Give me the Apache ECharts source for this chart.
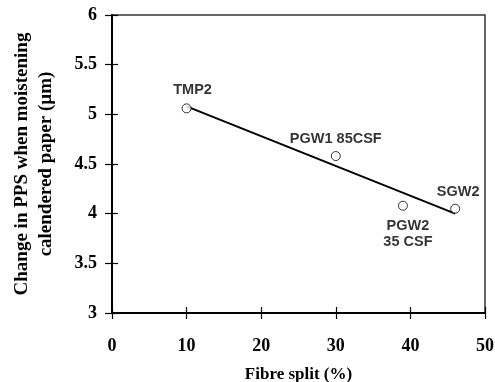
<!DOCTYPE html>
<html>
<head>
<meta charset="utf-8">
<script src="https://cdn.jsdelivr.net/npm/echarts@6/dist/echarts.min.js"></script>
<style>
  html, body { margin: 0; padding: 0; background: #fff; }
  #chart { width: 495px; height: 382px; }
</style>
</head>
<body>
<div id="chart"></div>
<script>
// pulp samples
const sampleNames = ['TMP2', 'PGW1 85CSF', 'PGW2\n35 CSF', 'SGW2']
const fibreSplit = [10, 30, 39, 46]
const ppsChange = [5.06, 4.58, 4.08, 4.05]

// fitted trend line end points
const trendX = [10, 46]
const trendY = [5.08, 4.0]

const xTicks = [0, 10, 20, 30, 40, 50]
const yTicks = [3, 3.5, 4, 4.5, 5, 5.5, 6]

const serif = '"Liberation Serif", "Times New Roman", serif'
const sans = '"Liberation Sans", Arial, sans-serif'

// where each label sits relative to its point
const labelPlace = {
  'TMP2': { position: 'top', offset: [6, 0], distance: 5 },
  'PGW1 85CSF': { position: 'top', offset: [0, 0], distance: 4 },
  'PGW2\n35 CSF': { position: 'bottom', offset: [5, 0], distance: 7 },
  'SGW2': { position: 'top', offset: [3, 0], distance: 4 }
}

const chart = echarts.init(document.getElementById('chart'))

const tickLabel = { fontFamily: serif, fontWeight: 'bold', fontSize: 18, color: '#000' }

const option = {
  animation: false,
  grid: {
    left: 112, right: 10, top: 15, bottom: 69,
    containLabel: false,
    outerBoundsMode: 'none',
    show: true, borderColor: '#333', borderWidth: 1.5
  },
  xAxis: [
    {
      type: 'value',
      min: xTicks[0], max: xTicks[xTicks.length - 1], interval: 10,
      name: 'Fibre split (%)',
      nameLocation: 'middle',
      nameGap: 53,
      nameTextStyle: { fontFamily: serif, fontWeight: 'bold', fontSize: 17, color: '#000' },
      axisLine: { lineStyle: { color: '#000', width: 2 } },
      axisTick: { length: 6, lineStyle: { color: '#000', width: 1.2 } },
      axisLabel: Object.assign({ margin: 24 }, tickLabel),
      splitLine: { show: false }
    },
    {
      type: 'value', position: 'bottom',
      min: xTicks[0], max: xTicks[xTicks.length - 1], interval: 10,
      axisLine: { show: false },
      axisTick: { inside: true, length: 6, lineStyle: { color: '#000', width: 1.2 } },
      axisLabel: { show: false },
      splitLine: { show: false }
    }
  ],
  yAxis: [
    {
      type: 'value',
      min: yTicks[0], max: yTicks[yTicks.length - 1], interval: 0.5,
      name: 'Change in PPS when moistening\ncalendered paper (µm)',
      nameLocation: 'middle',
      nameRotate: 90,
      nameGap: 54,
      nameTextStyle: { fontFamily: serif, fontWeight: 'bold', fontSize: 19, color: '#000', lineHeight: 24 },
      axisLine: { lineStyle: { color: '#000', width: 2 } },
      axisTick: { length: 7, lineStyle: { color: '#000', width: 1.2 } },
      axisLabel: Object.assign({ margin: 15 }, tickLabel),
      splitLine: { show: false }
    },
    {
      type: 'value', position: 'left',
      min: yTicks[0], max: yTicks[yTicks.length - 1], interval: 0.5,
      axisLine: { show: false },
      axisTick: { inside: true, length: 6, lineStyle: { color: '#000', width: 1.2 } },
      axisLabel: { show: false },
      splitLine: { show: false }
    }
  ],
  series: [
    {
      type: 'line',
      data: trendX.map((x, i) => [x, trendY[i]]),
      symbol: 'none',
      lineStyle: { color: '#000', width: 2 },
      z: 2
    },
    {
      type: 'scatter',
      data: sampleNames.map((name, i) => ({
        name: name,
        value: [fibreSplit[i], ppsChange[i]],
        label: labelPlace[name]
      })),
      symbol: 'circle',
      symbolSize: 9,
      itemStyle: { color: '#fff', borderColor: '#000', borderWidth: 1 },
      label: {
        show: true,
        formatter: (p) => p.name,
        fontFamily: sans,
        fontWeight: 'bold',
        fontSize: 14.5,
        color: '#000',
        lineHeight: 16
      },
      z: 3
    }
  ]
}

chart.setOption(option)
</script>
</body>
</html>
